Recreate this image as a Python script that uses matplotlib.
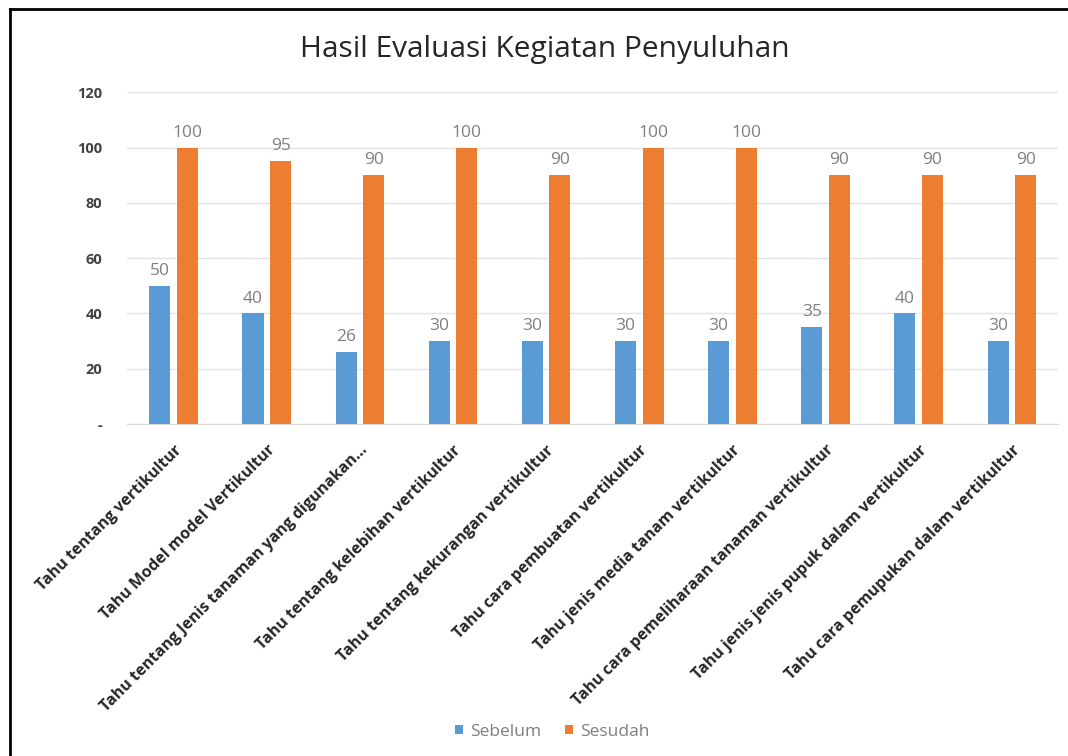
import matplotlib.pyplot as plt
import numpy as np
from matplotlib.lines import Line2D

# Data
categories = [
    "Tahu tentang vertikultur",
    "Tahu Model model Vertikultur",
    "Tahu tentang Jenis tanaman yang digunakan...",
    "Tahu tentang kelebihan vertikultur",
    "Tahu tentang kekurangan vertikultur",
    "Tahu cara pembuatan vertikultur",
    "Tahu jenis media tanam vertikultur",
    "Tahu cara pemeliharaan tanaman vertikultur",
    "Tahu jenis jenis pupuk dalam vertikultur",
    "Tahu cara pemupukan dalam vertikultur",
]
sebelum = [50, 40, 26, 30, 30, 30, 30, 35, 40, 30]
sesudah = [100, 95, 90, 100, 90, 100, 100, 90, 90, 90]
y_ticks = [0, 20, 40, 60, 80, 100, 120]
y_tick_labels = ["-", "20", "40", "60", "80", "100", "120"]

BLUE = "#5B9BD5"
ORANGE = "#ED7D31"
FONT = ["Open Sans", "DejaVu Sans"]

plt.rcParams['font.family'] = FONT

fig = plt.figure(figsize=(10.68, 7.56), dpi=100)
ax = fig.add_axes([0.119, 0.439, 0.872, 0.439])

x = np.arange(len(categories))
w = 0.226
off = 0.148
b1 = ax.bar(x - off, sebelum, w, color=BLUE, label="Sebelum", zorder=3)
b2 = ax.bar(x + off, sesudah, w, color=ORANGE, label="Sesudah", zorder=3)

# data labels
for bars, vals in ((b1, sebelum), (b2, sesudah)):
    for rect, v in zip(bars, vals):
        ax.annotate(str(v), (rect.get_x() + rect.get_width() / 2, v),
                    xytext=(0, 5), textcoords="offset points",
                    ha="center", va="bottom", fontsize=12.5, color="#7F7F7F")

ax.set_xlim(-0.5, len(categories) - 0.5)
ax.set_ylim(0, 120)
ax.set_yticks(y_ticks)
ax.set_yticklabels(y_tick_labels, fontsize=10.5, fontweight="bold", color="#404040")
ax.set_xticks(x)
ax.set_xticklabels(categories, rotation=45, ha="right", rotation_mode="anchor",
                   fontsize=11.5, fontweight="bold", color="#262626")

ax.yaxis.grid(True, color="#E3E3E3", linewidth=1, zorder=0)
ax.set_axisbelow(True)
for s in ("top", "right", "left"):
    ax.spines[s].set_visible(False)
ax.spines["bottom"].set_color("#D9D9D9")
ax.tick_params(axis="both", length=0)
ax.tick_params(axis="y", pad=18)
ax.tick_params(axis="x", pad=13)

fig.text(0.51, 0.934, "Hasil Evaluasi Kegiatan Penyuluhan", ha="center", va="center",
         fontsize=21.5, color="#262626")

fig.legend(handles=[b1, b2], labels=["Sebelum", "Sesudah"], loc="center",
           bbox_to_anchor=(0.517, 0.032), ncol=2, frameon=False, fontsize=12.5,
           labelcolor="#7F7F7F", handlelength=0.45, handleheight=0.45,
           handletextpad=0.4, columnspacing=1.4)

# black frame on the top and left edge
fig.add_artist(Line2D([0.009, 0.009], [0.0, 0.988], transform=fig.transFigure,
                      color="black", linewidth=2))
fig.add_artist(Line2D([0.009, 1.0], [0.988, 0.988], transform=fig.transFigure,
                      color="black", linewidth=2))

fig.savefig("out.png", dpi=100)
